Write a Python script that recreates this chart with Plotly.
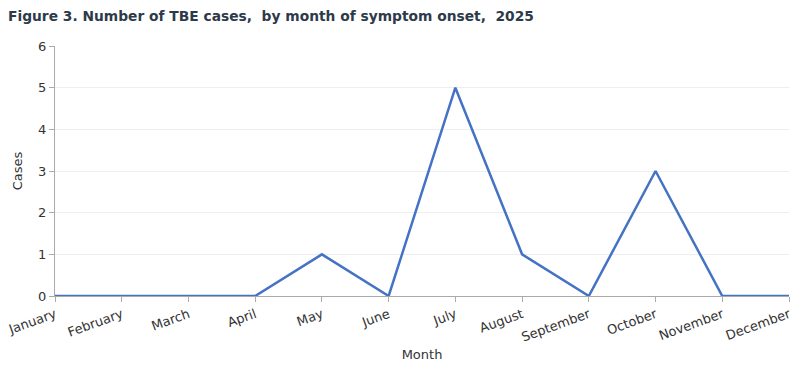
import plotly.graph_objects as go

months = ["January", "February", "March", "April", "May", "June", "July",
          "August", "September", "October", "November", "December"]
cases = [0, 0, 0, 0, 1, 0, 5, 1, 0, 3, 0, 0]
y_ticks = [0, 1, 2, 3, 4, 5, 6]

fig = go.Figure()
fig.add_trace(go.Scatter(x=months, y=cases, mode="lines",
                         line=dict(color="#4472C4", width=2.5)))

font_family = "DejaVu Sans, sans-serif"
fig.update_layout(
    width=792, height=360,
    margin=dict(l=47, r=11, t=38, b=72, autoexpand=False),
    paper_bgcolor="white", plot_bgcolor="white",
    showlegend=False,
    font=dict(family=font_family, color="#333333", size=12),
    title=dict(text="<b>Figure 3. Number of TBE cases,  by month of symptom onset,  2025</b>",
               x=0.0, xanchor="left", y=0.978, yanchor="middle",
               font=dict(size=13.8, color="#2d3a4a", family=font_family)),
    xaxis=dict(
        range=[0, 11], showline=True, linecolor="#aaaaaa", linewidth=1,
        ticks="outside", ticklen=5, tickcolor="#aaaaaa",
        tickangle=-20, showgrid=False, zeroline=False, automargin=False,
        tickfont=dict(size=13, color="#333333"),
        title=dict(text="Month", font=dict(size=13, color="#333333"), standoff=6),
    ),
    yaxis=dict(
        range=[0, 6], tickvals=y_ticks, showline=True, linecolor="#aaaaaa", linewidth=1,
        ticks="outside", ticklen=5, tickcolor="#aaaaaa",
        showgrid=True, gridcolor="#eeeeee", zeroline=False, automargin=False,
        tickfont=dict(size=13, color="#333333"),
        title=dict(text="Cases", font=dict(size=13, color="#333333"), standoff=12),
    ),
)
fig.write_html("out.html")
